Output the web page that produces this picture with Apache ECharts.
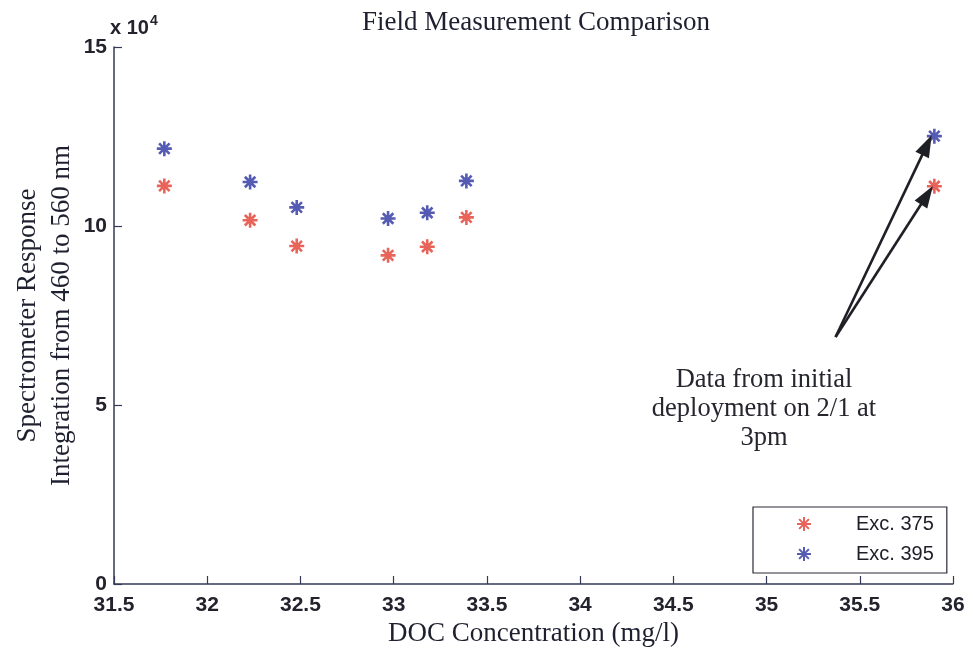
<!DOCTYPE html>
<html>
<head>
<meta charset="utf-8">
<title>Field Measurement Comparison</title>
<script src="https://cdn.jsdelivr.net/npm/echarts@6/dist/echarts.min.js"></script>
<style>
  html, body { margin: 0; padding: 0; background: #ffffff; }
  #chart { width: 973px; height: 655px; }
</style>
</head>
<body>
<div id="chart"></div>
<script>
// DOC concentration (mg/l) for each field sample
const docConcentration = [31.77, 32.23, 32.48, 32.97, 33.18, 33.39, 35.90];
// Integrated spectrometer response (460-560 nm) per excitation wavelength
const exc375 = [111200, 101600, 94400, 91800, 94200, 102400, 111100];
const exc395 = [121600, 112300, 105200, 102100, 103700, 112600, 125100];
const seriesNames = ['Exc. 375', 'Exc. 395'];
const xTicks = { min: 31.5, max: 36, step: 0.5 };
const yTicks = { min: 0, max: 150000, step: 50000 };

// Arrows pointing at the initial-deployment samples (data units)
const arrowTail = [35.37, 69000];
const arrowTips = [[35.86, 122600], [35.86, 108600]];
const noteLines = ['Data from initial', 'deployment on 2/1 at', '3pm'];

// Eight-spoke asterisk marker
const asterisk = 'path://M0,5L10,5M5,0L5,10M1.5,1.5L8.5,8.5M8.5,1.5L1.5,8.5';

const axisColor = '#343a56';
const tickFont = { fontFamily: 'Liberation Sans', fontWeight: 'bold', fontSize: 21, color: '#23232e' };
const serif = 'Liberation Serif';

const chart = echarts.init(document.getElementById('chart'), null, { renderer: 'canvas' });

function pairs(ys) {
  return docConcentration.map((x, i) => [x, ys[i]]);
}

function starSeries(name, ys, color, extra) {
  return Object.assign({
    name: name,
    type: 'scatter',
    data: pairs(ys),
    symbol: asterisk,
    symbolSize: 15,
    itemStyle: { color: 'rgba(0,0,0,0)', borderColor: color, borderWidth: 2.6 },
    emphasis: { disabled: true }
  }, extra || {});
}

const option = {
  animation: false,
  backgroundColor: '#ffffff',
  title: {
    text: 'Field Measurement Comparison',
    left: 531,
    textAlign: 'center',
    top: 4,
    textStyle: { fontFamily: serif, fontSize: 27, fontWeight: 'normal', color: '#1e2030' }
  },
  grid: { left: 114, right: 20, top: 47, bottom: 71, containLabel: false, outerBoundsMode: 'none' },
  xAxis: {
    type: 'value',
    min: xTicks.min, max: xTicks.max, interval: xTicks.step,
    name: 'DOC Concentration (mg/l)',
    nameLocation: 'middle',
    nameGap: 36,
    nameMoveOverlap: false,
    nameTextStyle: { fontFamily: serif, fontSize: 27, color: '#1e2030' },
    axisLine: { show: true, lineStyle: { color: axisColor, width: 1.5 } },
    axisTick: { show: true, inside: true, length: 8, lineStyle: { color: axisColor, width: 1.2 } },
    axisLabel: Object.assign({ margin: 11 }, tickFont),
    splitLine: { show: false }
  },
  yAxis: {
    type: 'value',
    min: yTicks.min, max: yTicks.max, interval: yTicks.step,
    name: 'Spectrometer Response\nIntegration from 460 to 560 nm',
    nameLocation: 'middle',
    nameRotate: 90,
    nameGap: 35,
    nameMoveOverlap: false,
    nameTextStyle: { fontFamily: serif, fontSize: 27, color: '#1e2030', lineHeight: 34 },
    axisLine: { show: true, lineStyle: { color: axisColor, width: 1.5 } },
    axisTick: { show: true, inside: true, length: 8, lineStyle: { color: axisColor, width: 1.2 } },
    axisLabel: Object.assign({ margin: 7, formatter: v => String(v / 10000) }, tickFont),
    splitLine: { show: false }
  },
  legend: {
    orient: 'vertical',
    left: 753,
    top: 507,
    data: seriesNames,
    itemWidth: 14,
    itemHeight: 14,
    itemGap: 10,
    padding: [7, 13, 9, 43],
    borderColor: '#2a2a38',
    borderWidth: 1.2,
    backgroundColor: '#ffffff',
    selectedMode: false,
    textStyle: { fontFamily: 'Liberation Sans', fontSize: 20, color: '#1e1e28', padding: [0, 0, 0, 40] }
  },
  series: [
    starSeries(seriesNames[0], exc375, '#e23d31'),
    starSeries(seriesNames[1], exc395, '#2a32a0', {
      markLine: {
        silent: true,
        symbol: ['none', 'triangle'],
        symbolSize: [15, 22],
        label: { show: false },
        lineStyle: { color: '#1f1f26', width: 2.6, type: 'solid' },
        itemStyle: { color: '#1f1f26' },
        data: arrowTips.map(tip => [{ coord: arrowTail }, { coord: tip }])
      }
    })
  ],
  graphic: [
    {
      type: 'text',
      x: 110,
      y: 14,
      style: {
        text: '{b|x 10}{s|4}',
        rich: {
          b: { fontFamily: 'Liberation Sans', fontWeight: 'bold', fontSize: 20, fill: '#23232e', verticalAlign: 'bottom' },
          s: { fontFamily: 'Liberation Sans', fontWeight: 'bold', fontSize: 14, fill: '#23232e', verticalAlign: 'top', padding: [0, 0, 10, 1] }
        }
      }
    },
    {
      type: 'text',
      x: 764,
      y: 366,
      style: {
        text: noteLines.join('\n'),
        align: 'center',
        verticalAlign: 'top',
        fontFamily: serif,
        fontSize: 26.5,
        lineHeight: 29,
        fill: '#26262e'
      }
    }
  ]
};

chart.setOption(option);
</script>
</body>
</html>
